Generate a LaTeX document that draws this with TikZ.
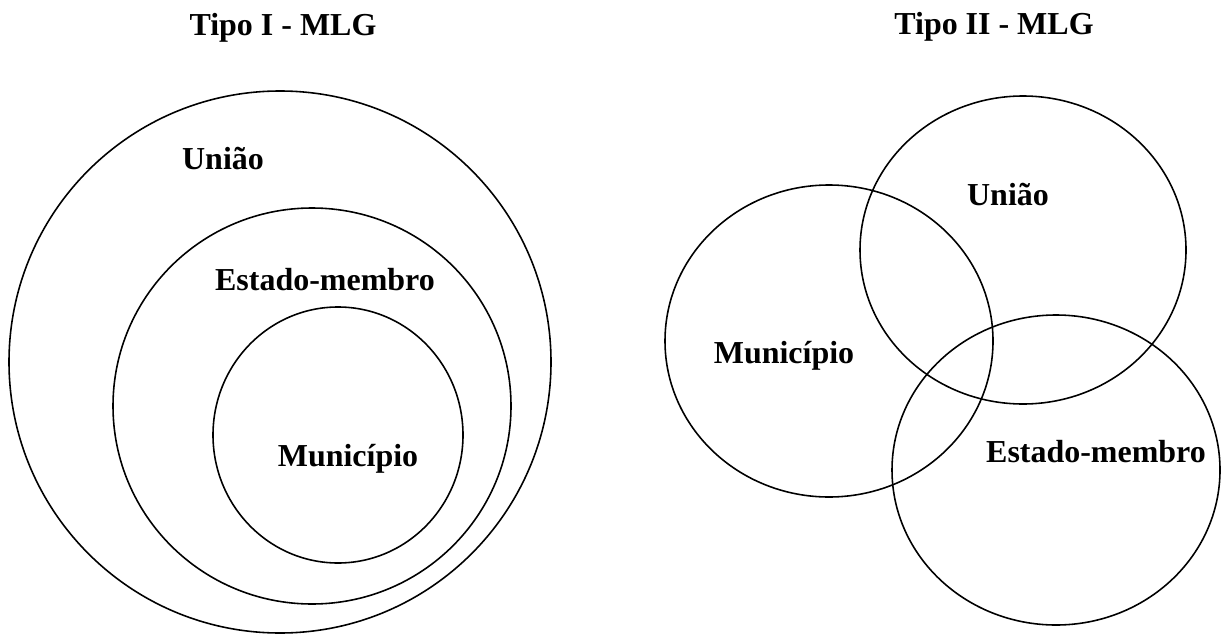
\documentclass[tikz,border=0pt]{standalone}
\usepackage{fontspec}
\setmainfont{Liberation Serif}
\usetikzlibrary{positioning}

\begin{document}
\begin{tikzpicture}[
  x=0.02cm, y=-0.02cm,
  ring/.style={draw=black, line width=0.9pt},
  lbl/.style={font=\fontsize{18.2}{21}\selectfont\bfseries, inner sep=0pt, anchor=base},
]
\useasboundingbox (0,0) rectangle (1223,635);

% Tipo I: nested
\node[lbl] (t1) at (283,36) {Tipo I - MLG};
\draw[ring] (280,362) ellipse [x radius=271, y radius=271];
\draw[ring] (312,406) ellipse [x radius=199, y radius=198];
\draw[ring] (338,435) ellipse [x radius=125, y radius=128];
\node[lbl] (uniao1) at (223,169) {União};
\node[lbl] (estado1) at (325,290) {Estado-membro};
\node[lbl] (munic1) at (348,466) {Município};

% Tipo II: overlapping
\node[lbl] (t2) at (994,35) {Tipo II - MLG};
\draw[ring] (829,341) ellipse [x radius=164, y radius=156];
\draw[ring] (1023,250) ellipse [x radius=163, y radius=154];
\draw[ring] (1056,470) ellipse [x radius=164, y radius=155];
\node[lbl] (uniao2) at (1008,205) {União};
\node[lbl] (munic2) at (784,363) {Município};
\node[lbl] (estado2) at (1096,462) {Estado-membro};

\end{tikzpicture}
\end{document}
